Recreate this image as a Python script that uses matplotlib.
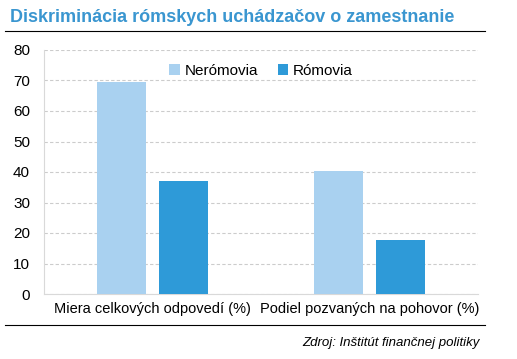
import matplotlib.pyplot as plt
import numpy as np

categories = ["Miera celkových odpovedí (%)", "Podiel pozvaných na pohovor (%)"]
neromovia = [69.5, 40.3]
romovia = [37.2, 17.7]
series_names = ["Nerómovia", "Rómovia"]

plt.rcParams['font.family'] = ['Liberation Sans', 'DejaVu Sans']

fig = plt.figure(figsize=(5.17, 3.59), dpi=100)
ax = fig.add_axes([44/517, 1-294/359, 434/517, 244/359])

x = np.arange(len(categories))
w = 0.226
ax.bar(x - 0.143, neromovia, w, color="#a9d1f0", label=series_names[0], zorder=3)
ax.bar(x + 0.143, romovia, w, color="#2e9ad8", label=series_names[1], zorder=3)

ax.set_xlim(-0.5, 1.5)
ax.set_ylim(0, 80)
ax.set_yticks(range(0, 81, 10))
ax.set_xticks(x)
ax.set_xticklabels(categories, fontsize=10.5)
ax.tick_params(axis='y', labelsize=11, length=0, pad=10)
ax.tick_params(axis='x', length=0, pad=6)
ax.yaxis.grid(True, linestyle=(0, (3, 2)), color="#cccccc", linewidth=0.8)
for s in ["top", "right"]:
    ax.spines[s].set_visible(False)
ax.spines["left"].set_color("#d9d9d9")
ax.spines["bottom"].set_color("#d9d9d9")

ax.legend(loc="upper center", bbox_to_anchor=(0.5, 1.0), ncol=2, frameon=False,
          fontsize=11, handlelength=0.7, handleheight=0.7, handletextpad=0.3,
          columnspacing=1.3)

fig.text(10/517, 1-17/359, "Diskriminácia rómskych uchádzačov o zamestnanie",
         color="#3a96d0", fontsize=13, fontweight="bold", va="center")
fig.add_artist(plt.Line2D([5/517, 485/517], [1-31/359, 1-31/359], color="black", linewidth=0.8))
fig.add_artist(plt.Line2D([5/517, 485/517], [1-325/359, 1-325/359], color="black", linewidth=0.8))
fig.text(480/517, 1-343/359, "Zdroj: Inštitút finančnej politiky", fontsize=9.5,
         style="italic", ha="right", va="center")

plt.savefig("out.png", dpi=100)
